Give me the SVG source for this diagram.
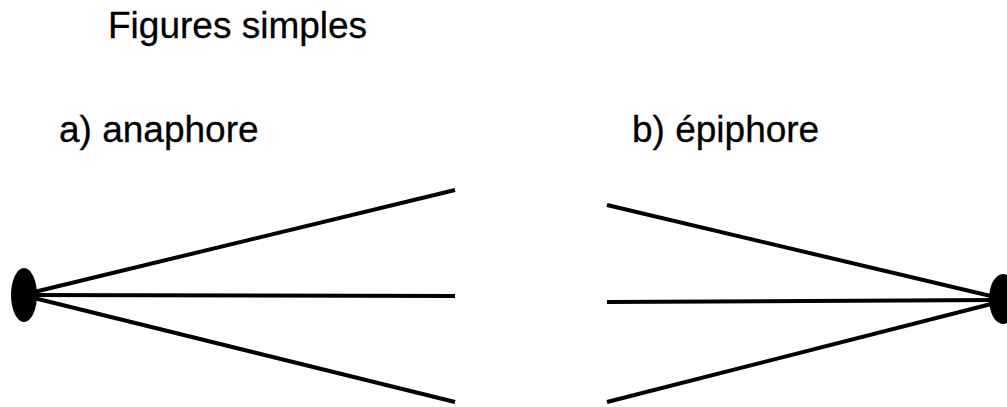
<svg xmlns="http://www.w3.org/2000/svg" width="1007" height="407" viewBox="0 0 1007 407">
<style>
text{font-family:"Liberation Sans",Arial,sans-serif;font-size:37px;fill:#000;stroke:#000;stroke-width:0.3}
.ln{stroke:#000;stroke-width:4;fill:none}
</style>
<rect width="1007" height="407" fill="#fff"/>
<g id="title"><text x="108" y="38">Figures simples</text></g>
<g id="label-a"><text x="59" y="142">a) anaphore</text></g>
<g id="label-b"><text x="632" y="142">b) épiphore</text></g>
<g id="node-left"><ellipse cx="24" cy="295" rx="13" ry="27" fill="#000"/></g>
<g id="node-right"><ellipse cx="1003" cy="299" rx="14" ry="25" fill="#000"/></g>
<g id="connectors">
<line class="ln" x1="30" y1="293" x2="455" y2="190"/>
<line class="ln" x1="30" y1="295" x2="455" y2="296"/>
<line class="ln" x1="30" y1="297" x2="455" y2="402"/>
<line class="ln" x1="607" y1="205" x2="995" y2="297"/>
<line class="ln" x1="607" y1="302" x2="995" y2="300"/>
<line class="ln" x1="607" y1="402" x2="995" y2="303"/>
</g>
</svg>
